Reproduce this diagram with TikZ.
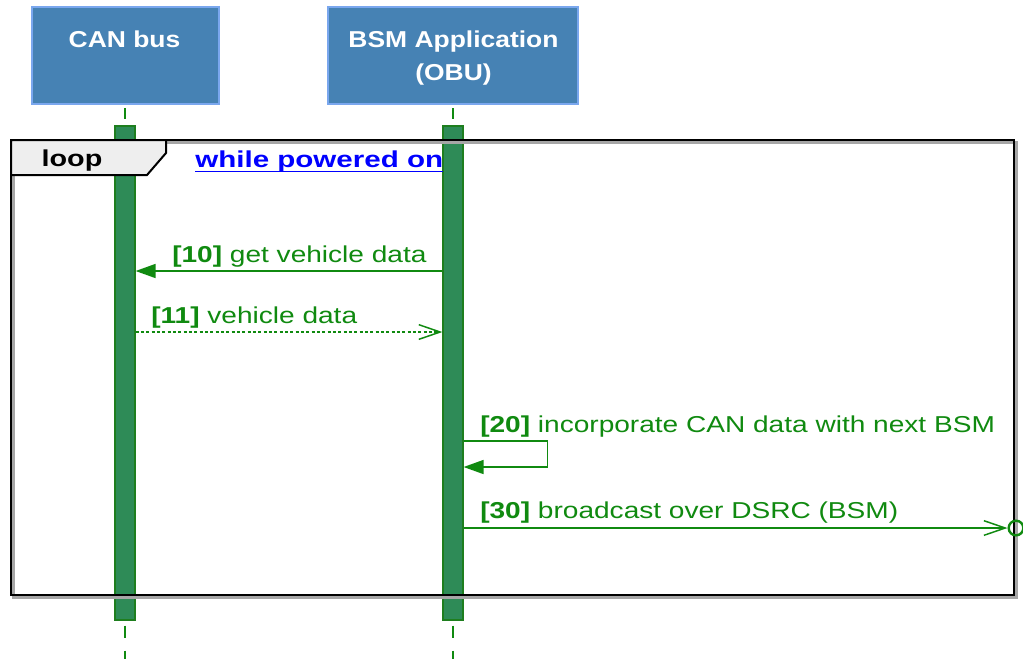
\documentclass[tikz,border=0pt]{standalone}
\usepackage{fontspec}
\setmainfont{Liberation Sans}
\newfontfamily\hdrfont[FakeStretch=1.15]{Liberation Sans}
\newfontfamily\msgfont[FakeStretch=1.22]{Liberation Sans}
\newfontfamily\loopfont[FakeStretch=1.25]{Liberation Sans}
\newfontfamily\condfont[FakeStretch=1.285]{Liberation Sans}
\usetikzlibrary{arrows.meta}
\definecolor{boxfill}{HTML}{4682B4}
\definecolor{boxline}{HTML}{7AA7EE}
\definecolor{barfill}{HTML}{2E8B57}
\definecolor{barline}{HTML}{1E7E1E}
\definecolor{msgcol}{HTML}{108A10}
\definecolor{tabfill}{HTML}{EEEEEE}
\definecolor{linkblue}{HTML}{0000FF}

\begin{document}
\begin{tikzpicture}[x=0.75pt,y=-0.75pt,
  font=\msgfont\fontsize{17.25}{22}\selectfont,
  pbox/.style={draw=boxline, line width=1.2pt, fill=boxfill, inner sep=0pt},
  ptext/.style={text=white, font=\hdrfont\fontsize{17.25}{22}\selectfont\bfseries, inner sep=0pt, anchor=base},
  looptext/.style={inner sep=0pt, font=\loopfont\fontsize{17.25}{22}\selectfont\bfseries},
  condtext/.style={inner sep=0pt, text=linkblue, font=\condfont\fontsize{17.25}{22}\selectfont\bfseries},
  actbar/.style={draw=barline, line width=0.9pt, fill=barfill, inner sep=0pt,
    minimum width=15pt, minimum height=370.5pt},
  lifeline/.style={draw=msgcol, line width=1.1pt},
  msg/.style={draw=msgcol, line width=1.1pt},
  reply/.style={msg, dash pattern=on 2.4pt off 1.6pt},
  solidhead/.style={-{Triangle[length=15pt,width=10.5pt]}},
  openhead/.style={-{Straight Barb[length=16pt,width=11pt,line width=1.1pt]}},
  msglabel/.style={text=msgcol, inner sep=0pt, anchor=base west},
  endcirc/.style={circle, draw=msgcol, line width=1.8pt, minimum size=11pt, inner sep=0pt},
]
\useasboundingbox (0,0) rectangle (1023,658);
\fill[white] (0,0) rectangle (1023,658);

% participants
\node[pbox, minimum width=140.25pt, minimum height=72.75pt] (can) at (125.5,55.5) {};
\node[pbox, minimum width=187.5pt, minimum height=72.75pt] (bsm) at (453,55.5) {};
\node[ptext] (canname) at (124.5,47.5) {CAN bus};
\node[ptext] (bsmname) at (453.5,47.5) {BSM Application};
\node[ptext] (bsmsub) at (453.5,80.5) {(OBU)};

% activation bars
\node[actbar] (canbar) at (125,373) {};
\node[actbar] (bsmbar) at (453,373) {};

% lifelines above and below the bars
\draw[lifeline, dash pattern=on 0pt off 2.5pt on 8pt off 30pt] (can.south -| canbar) -- (canbar.north);
\draw[lifeline, dash pattern=on 0pt off 2.5pt on 8pt off 30pt] (bsm.south) -- (bsmbar.north);
\draw[lifeline, dash pattern=on 0pt off 3.75pt on 9pt off 6pt] (canbar.south) -- ++(0,40);
\draw[lifeline, dash pattern=on 0pt off 3.75pt on 9pt off 6pt] (bsmbar.south) -- ++(0,40);

% loop frame with shadow
\draw[black!35, line width=2.2pt] (13.5,142.5) rectangle (1016.5,597.5);
\draw[black, line width=2.2pt] (11,140) rectangle (1014,595);
\draw[black, line width=1.5pt, fill=tabfill] (11,140) -- (166,140) -- (166,153) -- (147,175) -- (11,175) -- cycle;
\node[looptext, anchor=base] (looplbl) at (72,166) {loop};
\node[condtext, anchor=base west] (cond) at (195,167.5) {while powered on};
\draw[linkblue, line width=1.2pt] ([yshift=-3pt]cond.base west) -- ([yshift=-3pt]cond.base east);

% message levels
\coordinate (y10) at (0,271);
\coordinate (y11) at (0,332);
\coordinate (y20) at (0,441);
\coordinate (y20b) at (0,467);
\coordinate (y30) at (0,528);

% [10] get vehicle data
\draw[msg, solidhead] (bsmbar.west |- y10) -- (canbar.east |- y10);
\node[msglabel] (l10) at (172,262.5) {\textbf{[10]} get vehicle data};

% [11] vehicle data
\draw[reply, openhead] (canbar.east |- y11) -- (bsmbar.west |- y11);
\node[msglabel] (l11) at (151,323) {\textbf{[11]} vehicle data};

% [20] self message
\draw[msg, solidhead] (bsmbar.east |- y20) -- ++(84,0) |- (bsmbar.east |- y20b);
\node[msglabel] (l20) at (480,432.5) {\textbf{[20]} incorporate CAN data with next BSM};

% [30] broadcast to the outside
\node[endcirc] (bcast) at (1016,528) {};
\draw[msg, openhead] (bsmbar.east |- y30) -- (bcast.west);
\node[msglabel] (l30) at (480,518.5) {\textbf{[30]} broadcast over DSRC (BSM)};
\end{tikzpicture}
\end{document}
